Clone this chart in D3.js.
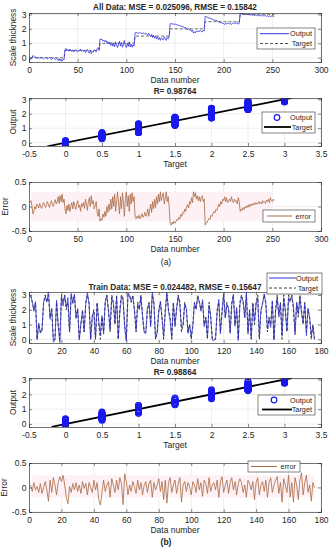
<!DOCTYPE html>
<html><head><meta charset="utf-8">
<script src="https://cdn.jsdelivr.net/npm/d3@7"></script>
<style>
body{margin:0;background:#fff}
svg{display:block}
text{font-family:"Liberation Sans",Arial,sans-serif;fill:#262626}
</style>
</head><body>
<svg id="c" width="335" height="550"></svg>
<script>
// ---------------- DATA ----------------
const levels = [0, 0.5, 1, 1.5, 2, 2.5, 3];
const samplesPerLevel = 36;
// error = target - output, all data (252 samples), one row per target level
const allErrSeg1 = [0.08,0.12,0.02,-0.15,-0.1,0.0,-0.05,0.05,0.02,-0.03,0.06,0.0,-0.04,0.04,0.08,0.02,-0.02,0.05,0.1,0.03,-0.02,0.06,0.12,0.04,0.0,0.08,0.14,0.05,0.1,0.2,0.06,0.22,0.1,0.25,0.08,0.15];
const allErrSeg2 = [-0.05,-0.15,0.02,-0.08,0.05,-0.1,0.0,0.08,-0.05,0.1,0.02,-0.06,0.05,0.12,-0.02,0.03,-0.1,0.06,0.0,0.08,-0.04,0.15,0.05,-0.08,0.1,0.18,0.0,0.22,0.05,0.12,-0.05,0.02,0.1,-0.12,-0.2,-0.05];
const allErrSeg3 = [-0.3,-0.25,-0.28,-0.15,-0.22,-0.1,-0.2,0.0,-0.12,0.05,-0.08,0.15,-0.05,0.2,0.0,0.25,-0.1,0.1,0.3,0.05,-0.15,0.2,-0.05,0.28,0.1,-0.2,0.15,0.3,0.0,0.22,-0.1,0.25,0.05,0.28,0.1,0.2];
const allErrSeg4 = [-0.22,-0.25,-0.2,-0.24,-0.18,-0.25,-0.21,-0.15,-0.22,-0.19,-0.12,-0.2,-0.15,-0.05,-0.2,-0.08,0.05,-0.12,0.1,-0.05,0.15,-0.02,0.2,0.05,0.25,0.1,0.3,0.12,0.22,0.28,0.05,0.18,0.3,0.1,0.2,0.0];
const allErrSeg5 = [-0.35,-0.38,-0.32,-0.36,-0.3,-0.34,-0.31,-0.26,-0.28,-0.22,-0.25,-0.16,-0.2,-0.12,-0.14,-0.05,-0.1,0.0,0.04,-0.03,0.1,0.05,0.18,0.08,0.3,0.2,0.28,0.15,0.22,0.12,0.2,0.1,0.18,0.22,0.1,0.15];
const allErrSeg6 = [-0.38,-0.32,-0.33,-0.28,-0.24,-0.26,-0.18,-0.2,-0.15,-0.1,-0.13,-0.06,-0.08,-0.02,0.05,0.0,0.1,0.05,0.15,0.12,0.2,0.1,0.18,0.08,0.12,0.15,0.1,0.2,0.12,0.08,0.15,0.1,0.12,0.05,0.18,0.1];
const allErrSeg7 = [-0.1,-0.05,-0.08,-0.02,-0.06,0.0,-0.03,0.02,-0.02,0.04,0.0,0.05,0.02,0.06,0.03,0.08,0.04,0.07,0.05,0.1,0.06,0.09,0.05,0.12,0.08,0.1,0.06,0.13,0.1,0.15,0.08,0.18,0.12,0.1,0.15,0.12];

// training data (176 samples)
const trainTarget = [
3,2.5,2,2.5,0,1,0.5,0.5,2.5,3,2.5,3,1.5,2,0,0,2.5,1,0,3,
2.5,3,2,2.5,0.5,3,2.5,3,1.5,2,0,1,2,0.5,2.5,3,2.5,0,1.5,2,
0,2.5,1,0,1.5,0.5,2.5,3,2,0.5,3,2.5,1,3,0,2,3,2.5,1,0,
3,3,2.5,3,2,0.5,2.5,2,3,1.5,0.5,0.5,2,2.5,1,3,2.5,0,0.5,2,
2.5,1.5,0,2,3,2,1.5,0,2.5,1,2,3,2.5,0.5,1,2.5,2,0.5,1,0,
1,2.5,2,3,2.5,2,2.5,1,1.5,0,2.5,1.5,0,0,0,2,2.5,0.5,2,3,
1.5,2.5,2,0.5,2.5,3,1,2,0,2.5,3,2.5,1.5,3,0.5,2,0,2.5,1,2.5,
3,0,2,2.5,3,2.5,0.5,1.5,1,2.5,0,2,3,1.5,2.5,0,3,2,0.5,3,
2.5,3,2,0.5,2.5,1.5,3,2,1,2.5,0.5,2,1.5,0,1,0];
const trainError = [
0.05,-0.08,0.1,-0.05,0.02,-0.1,0.08,-0.12,0.0,0.12,-0.05,-0.28,0.15,-0.1,0.2,0.05,-0.15,0.1,0.22,0.12,
0.25,0.05,-0.2,-0.33,0.02,-0.1,0.08,-0.05,0.1,-0.08,0.05,-0.12,0.12,-0.02,0.08,-0.15,0.1,0.0,-0.1,0.15,
-0.05,0.1,-0.25,-0.36,-0.1,0.15,-0.08,0.05,0.12,-0.2,0.18,0.05,-0.1,0.15,-0.05,0.2,0.08,-0.35,0.28,0.12,
-0.15,0.05,-0.08,0.12,0.02,-0.12,0.15,-0.05,0.1,-0.15,0.05,0.12,-0.1,0.08,0.15,-0.2,0.1,-0.05,0.05,0.18,
-0.08,0.12,-0.25,0.15,-0.32,0.1,0.2,-0.1,0.05,0.15,-0.12,0.08,0.2,-0.3,0.05,0.12,-0.08,0.1,0.02,-0.15,
0.12,0.05,-0.1,0.18,-0.05,0.1,-0.18,0.15,0.08,-0.12,0.2,-0.08,0.05,0.1,-0.05,0.15,-0.2,0.12,0.22,-0.1,
0.05,0.15,-0.12,0.1,0.2,-0.05,0.12,-0.15,0.08,0.18,0.1,-0.1,0.05,-0.2,0.15,0.08,-0.05,0.12,-0.25,0.1,
0.2,-0.15,0.05,0.12,-0.08,0.15,-0.2,0.1,0.2,-0.1,0.05,0.15,0.22,-0.12,0.1,-0.3,0.18,0.05,-0.1,0.25,
-0.2,0.1,-0.3,0.2,0.05,-0.25,0.15,0.3,-0.15,0.1,0.25,-0.1,0.05,-0.28,0.1,0.0];

const titles = ["All Data: MSE = 0.025096, RMSE = 0.15842", "R= 0.98764", "Train Data: MSE = 0.024482, RMSE = 0.15647", "R= 0.98864"];
const dataNumTicksAll = [0,50,100,150,200,250,300];
const dataNumTicksTrain = [0,20,40,60,80,100,120,140,160,180];
const targetTicks = [-0.5,0,0.5,1,1.5,2,2.5,3,3.5];
const valueTicks = [0,1,2,3];
const errorTicks = [-0.5,0,0.5];
const fitLineAll = [-0.25, 3.1];
const fitLineTrain = [-0.19, 3.1];

// derived series
const allError = [].concat(allErrSeg1,allErrSeg2,allErrSeg3,allErrSeg4,allErrSeg5,allErrSeg6,allErrSeg7);
const allTarget = levels.flatMap(l => Array(samplesPerLevel).fill(l));
const allOutput = allTarget.map((t,i) => +(t - allError[i]).toFixed(3));
const trainOutput = trainTarget.map((t,i) => +(t - trainError[i]).toFixed(3));

// ---------------- DRAW ----------------
const svg = d3.select("#c");
const L = 29, R = 321;
const C_OUT = "#3535dc", C_TGT = "#333", C_ERR = "#a86a42", C_GRID = "#e2e2e2", C_AX = "#3a3a3a", C_PT = "#1a1aee";
let clipId = 0;

function panel(cfg) {
  const x = d3.scaleLinear().domain(cfg.xd).range([L, R]);
  const y = d3.scaleLinear().domain(cfg.yd).range([cfg.bottom, cfg.top]);
  const g = svg.append("g");
  const id = "clip" + (clipId++);
  g.append("clipPath").attr("id", id).append("rect")
    .attr("x", L).attr("y", cfg.top).attr("width", R - L).attr("height", cfg.bottom - cfg.top);
  g.append("rect").attr("x", L).attr("y", cfg.top).attr("width", R - L).attr("height", cfg.bottom - cfg.top).attr("fill", "#fff");
  const inner = g.append("g").attr("clip-path", `url(#${id})`);
  const grid = inner.append("g").attr("stroke", C_GRID).attr("stroke-width", 0.6);
  cfg.xt.forEach(t => grid.append("line").attr("x1", x(t)).attr("x2", x(t)).attr("y1", cfg.top).attr("y2", cfg.bottom));
  cfg.yt.forEach(t => grid.append("line").attr("x1", L).attr("x2", R).attr("y1", y(t)).attr("y2", y(t)));
  return {g, inner, x, y, cfg};
}

function axes(p, xlabel, ylabel, ylabelX, title, titleY) {
  const {g, x, y, cfg} = p;
  const fmt = d => String(d);
  const ax = g.append("g").attr("transform", `translate(0,${cfg.bottom})`)
    .call(d3.axisBottom(x).tickValues(cfg.xt).tickSize(-3).tickPadding(4.5).tickFormat(fmt));
  const ay = g.append("g").attr("transform", `translate(${L},0)`)
    .call(d3.axisLeft(y).tickValues(cfg.yt).tickSize(-3).tickPadding(2.5).tickFormat(fmt));
  const at = g.append("g").attr("transform", `translate(0,${cfg.top})`)
    .call(d3.axisTop(x).tickValues(cfg.xt).tickSize(-3).tickFormat(""));
  const ar = g.append("g").attr("transform", `translate(${R},0)`)
    .call(d3.axisRight(y).tickValues(cfg.yt).tickSize(-3).tickFormat(""));
  [ax, ay, at, ar].forEach(a => {
    a.selectAll("path").attr("stroke", C_AX).attr("stroke-width", 0.7);
    a.selectAll("line").attr("stroke", C_AX).attr("stroke-width", 0.6);
    a.selectAll("text").attr("font-size", 8.5).attr("fill", "#262626").attr("font-family", '"Liberation Sans",Arial,sans-serif');
  });
  g.append("text").attr("x", (L + R) / 2).attr("y", cfg.bottom + 21).attr("text-anchor", "middle")
    .attr("font-size", 8.5).text(xlabel);
  g.append("text").attr("transform", `translate(${ylabelX},${(cfg.top + cfg.bottom) / 2}) rotate(-90)`)
    .attr("text-anchor", "middle").attr("font-size", 8.3).text(ylabel);
  if (title) g.append("text").attr("x", (L + R) / 2).attr("y", titleY).attr("text-anchor", "middle")
    .attr("font-size", 8.2).attr("font-weight", "bold").text(title);
}

function legend(g, bx, by, bw, bh, entries) {
  const lg = g.append("g");
  lg.append("rect").attr("x", bx).attr("y", by).attr("width", bw).attr("height", bh)
    .attr("fill", "#fff").attr("stroke", "#333").attr("stroke-width", 0.6);
  entries.forEach(e => {
    if (e.kind === "circle") {
      lg.append("circle").attr("cx", e.x1 + (e.x2 - e.x1) / 2).attr("cy", e.y).attr("r", 2.8)
        .attr("fill", "none").attr("stroke", e.color).attr("stroke-width", 1.2);
    } else {
      lg.append("line").attr("x1", e.x1).attr("x2", e.x2).attr("y1", e.y).attr("y2", e.y)
        .attr("stroke", e.color).attr("stroke-width", e.w || 1).attr("stroke-dasharray", e.dash || null);
    }
    lg.append("text").attr("x", e.tx).attr("y", e.y + 2.5).attr("text-anchor", "end")
      .attr("font-size", 7.3).text(e.label);
  });
}

const idxAll = allTarget.map((_, i) => i + 1);
const idxTrain = trainTarget.map((_, i) => i + 1);

// ---- Panel 1: All data series
{
  const p = panel({top: 13, bottom: 62, xd: [0, 300], yd: [-0.3, 3.1], xt: dataNumTicksAll, yt: valueTicks});
  const ln = d3.line().x((d, i) => p.x(idxAll[i])).y(d => p.y(d));
  p.inner.append("path").datum(allTarget).attr("d", ln).attr("fill", "none").attr("stroke", "#555").attr("stroke-width", 0.9).attr("stroke-dasharray", "3,2");
  p.inner.append("path").datum(allOutput).attr("d", ln).attr("fill", "none").attr("stroke", C_OUT).attr("stroke-width", 0.8);
  axes(p, "Data number", "Scale thickness", 15.5, titles[0], 10);
  legend(p.g, 257, 28, 58, 21, [
    {kind: "line", color: C_OUT, x1: 260, x2: 289, y: 33.7, tx: 312, label: "Output"},
    {kind: "line", color: "#555", dash: "3,2", x1: 260, x2: 289, y: 43.5, tx: 312, label: "Target"}]);
}
// ---- Panel 2: All data regression
{
  const p = panel({top: 98, bottom: 146, xd: [-0.5, 3.5], yd: [-0.23, 3.09], xt: targetTicks, yt: valueTicks});
  p.inner.append("line").attr("x1", p.x(fitLineAll[0])).attr("y1", p.y(fitLineAll[0]))
    .attr("x2", p.x(fitLineAll[1])).attr("y2", p.y(fitLineAll[1])).attr("stroke", "#000").attr("stroke-width", 1.8);
  p.inner.append("g").selectAll("circle").data(allTarget).join("circle")
    .attr("cx", d => p.x(d)).attr("cy", (d, i) => p.y(allOutput[i])).attr("r", 2.9)
    .attr("fill", "none").attr("stroke", C_PT).attr("stroke-width", 1.3);
  axes(p, "Target", "Output", 15.5, titles[1], 94);
  legend(p.g, 262, 112, 53, 21, [
    {kind: "circle", color: C_PT, x1: 266, x2: 288, y: 117.5, tx: 312, label: "Output"},
    {kind: "line", color: "#000", w: 1.8, x1: 264, x2: 291, y: 127, tx: 312, label: "Target"}]);
}
// ---- Panel 3: All data error
{
  const p = panel({top: 182, bottom: 231, xd: [0, 300], yd: [-0.5, 0.5], xt: dataNumTicksAll, yt: errorTicks});
  p.inner.append("rect").attr("x", p.x(2)).attr("y", p.y(0.3)).attr("width", p.x(250) - p.x(2)).attr("height", p.y(-0.3) - p.y(0.3)).attr("fill", "#fdf1f6");
  const ln = d3.line().x((d, i) => p.x(idxAll[i])).y(d => p.y(d));
  p.inner.append("path").datum(allError).attr("d", ln).attr("fill", "none").attr("stroke", C_ERR).attr("stroke-width", 0.8);
  axes(p, "Data number", "Error", 7.5, null, 0);
  legend(p.g, 263, 210, 52, 12, [
    {kind: "line", color: C_ERR, x1: 267, x2: 292, y: 216, tx: 311, label: "error"}]);
  svg.append("text").attr("x", 166).attr("y", 265).attr("text-anchor", "middle").attr("font-size", 8.5)
    .attr("font-family", '"Liberation Serif",serif').text("(a)");
}
// ---- Panel 4: Train data series
{
  const p = panel({top: 292, bottom: 343, xd: [0, 180], yd: [-0.25, 3.2], xt: dataNumTicksTrain, yt: valueTicks});
  const ln = d3.line().x((d, i) => p.x(idxTrain[i])).y(d => p.y(d));
  p.inner.append("path").datum(trainTarget).attr("d", ln).attr("fill", "none").attr("stroke", "#222").attr("stroke-width", 0.9).attr("stroke-dasharray", "3,2");
  p.inner.append("path").datum(trainOutput).attr("d", ln).attr("fill", "none").attr("stroke", "#3030c8").attr("stroke-width", 0.75);
  axes(p, "Data number", "Scale thickness", 15.5, titles[2], 290);
  legend(p.g, 267, 273, 55, 21, [
    {kind: "line", color: C_OUT, x1: 269, x2: 296, y: 278, tx: 318, label: "Output"},
    {kind: "line", color: "#444", dash: "3,2", x1: 269, x2: 296, y: 288, tx: 318, label: "Target"}]);
}
// ---- Panel 5: Train regression
{
  const p = panel({top: 378, bottom: 427, xd: [-0.5, 3.5], yd: [-0.2, 3.1], xt: targetTicks, yt: valueTicks});
  p.inner.append("line").attr("x1", p.x(fitLineTrain[0])).attr("y1", p.y(fitLineTrain[0]))
    .attr("x2", p.x(fitLineTrain[1])).attr("y2", p.y(fitLineTrain[1])).attr("stroke", "#000").attr("stroke-width", 1.8);
  p.inner.append("g").selectAll("circle").data(trainTarget).join("circle")
    .attr("cx", d => p.x(d)).attr("cy", (d, i) => p.y(trainOutput[i])).attr("r", 2.9)
    .attr("fill", "none").attr("stroke", C_PT).attr("stroke-width", 1.3);
  axes(p, "Target", "Output", 15.5, titles[3], 375);
  legend(p.g, 258, 395, 57, 20, [
    {kind: "circle", color: C_PT, x1: 263, x2: 285, y: 400, tx: 312, label: "Output"},
    {kind: "line", color: "#000", w: 1.8, x1: 262, x2: 292, y: 409.5, tx: 312, label: "Target"}]);
}
// ---- Panel 6: Train error
{
  const p = panel({top: 463, bottom: 512, xd: [0, 180], yd: [-0.5, 0.5], xt: dataNumTicksTrain, yt: errorTicks});
  p.inner.append("rect").attr("x", p.x(2)).attr("y", p.y(0.25)).attr("width", p.x(176) - p.x(2)).attr("height", p.y(-0.2) - p.y(0.25)).attr("fill", "#fdf1f6");
  const ln = d3.line().x((d, i) => p.x(idxTrain[i])).y(d => p.y(d));
  p.inner.append("path").datum(trainError).attr("d", ln).attr("fill", "none").attr("stroke", C_ERR).attr("stroke-width", 0.8);
  axes(p, "Data number", "Error", 7, null, 0);
  legend(p.g, 248, 461, 52, 11, [
    {kind: "line", color: C_ERR, x1: 251, x2: 277, y: 466.5, tx: 296, label: "error"}]);
  svg.append("text").attr("x", 166).attr("y", 545).attr("text-anchor", "middle").attr("font-size", 8.5)
    .attr("font-weight", "bold").attr("font-family", '"Liberation Serif",serif').text("(b)");
}
</script>
</body></html>
